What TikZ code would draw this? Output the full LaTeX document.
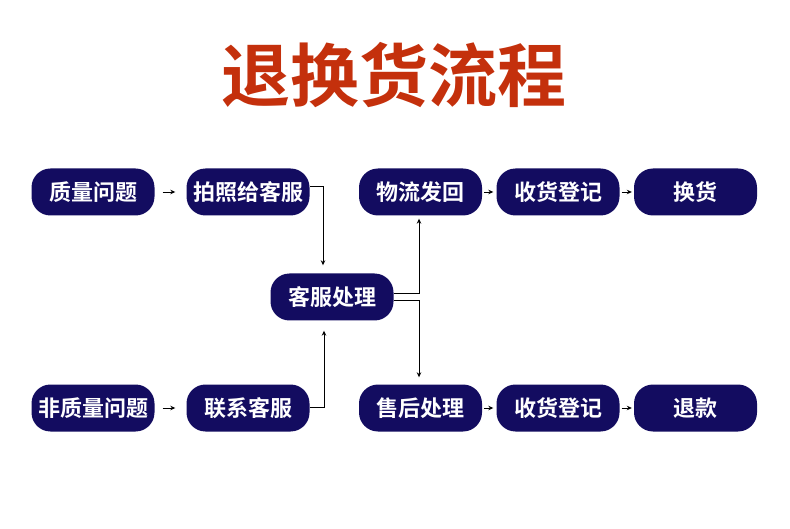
\documentclass[tikz,border=0pt]{standalone}
\usepackage{fontspec}
\newfontfamily\cjk{Noto Sans CJK SC}[BoldFont={Noto Sans CJK SC Bold}]
\usetikzlibrary{arrows.meta}
\definecolor{boxblue}{RGB}{19,12,96}
\definecolor{titlered}{RGB}{196,48,12}
\begin{document}
\begin{tikzpicture}[x=1pt,y=-1pt,
  stepbox/.style={draw=none,fill=boxblue,rounded corners=19pt,minimum width=123pt,minimum height=47pt,inner sep=0pt,text=white,font=\cjk\bfseries\fontsize{22}{24}\selectfont},
  arr/.style={draw=black,line width=0.8pt,-{Stealth[length=5pt,width=4.5pt]}}]
\useasboundingbox (0,0) rectangle (790,529);
\node[text=titlered,font=\cjk\bfseries\fontsize{69}{71}\selectfont] (title) at (394,75) {退换货流程};
% row 1
\node[stepbox] (q1) at (93,192) {质量问题};
\node[stepbox] (p1) at (248,192) {拍照给客服};
\node[stepbox] (w1) at (420.5,192) {物流发回};
\node[stepbox] (s1) at (558,192) {收货登记};
\node[stepbox] (h1) at (695.5,192) {换货};
% middle
\node[stepbox] (k) at (332,297) {客服处理};
% row 2
\node[stepbox] (q2) at (93,408) {非质量问题};
\node[stepbox] (p2) at (248,408) {联系客服};
\node[stepbox] (w2) at (420.5,408) {售后处理};
\node[stepbox] (s2) at (558,408) {收货登记};
\node[stepbox] (h2) at (695.5,408) {退款};
% short arrows
\draw[arr] ([xshift=8pt]q1.east) -- ([xshift=-11pt]p1.west);
\draw[arr] ([xshift=2pt]w1.east) -- ([xshift=-3pt]s1.west);
\draw[arr] ([xshift=2pt]s1.east) -- ([xshift=-2pt]h1.west);
\draw[arr] ([xshift=8pt]q2.east) -- ([xshift=-11pt]p2.west);
\draw[arr] ([xshift=2pt]w2.east) -- ([xshift=-3pt]s2.west);
\draw[arr] ([xshift=2pt]s2.east) -- ([xshift=-2pt]h2.west);
% to 客服处理
\draw[arr] ([yshift=6pt]p1.east) -| ([xshift=-9pt,yshift=8pt]k.north);
\draw[arr] ([yshift=1pt]p2.east) -| ([xshift=-8pt,yshift=-10pt]k.south);
% from 客服处理
\draw[arr] ([yshift=4pt]k.east) -| ([xshift=-1.5pt,yshift=-3pt]w1.south);
\draw[arr] ([yshift=-3pt]k.east) -| ([xshift=-1.5pt,yshift=7pt]w2.north);
\end{tikzpicture}
\end{document}
